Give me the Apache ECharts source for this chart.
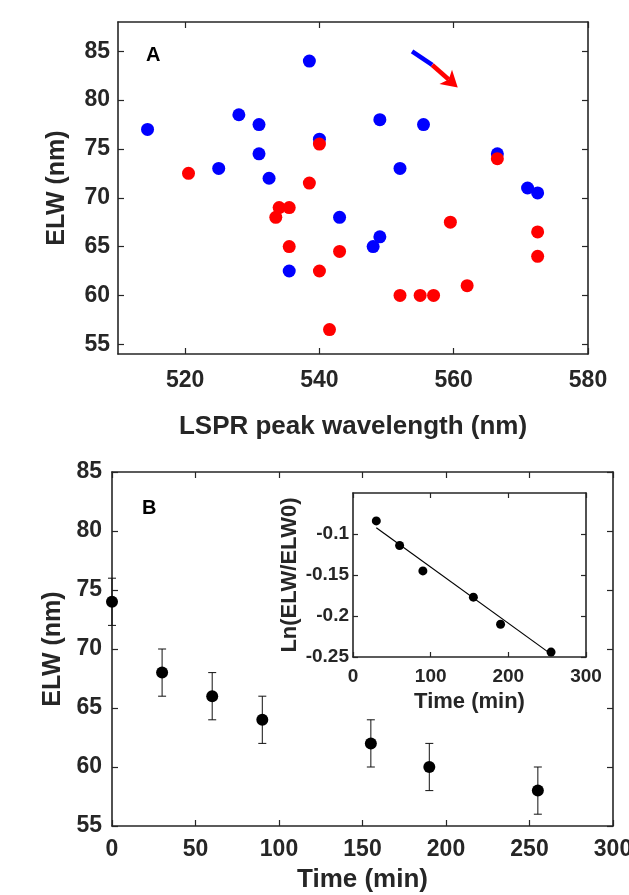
<!DOCTYPE html>
<html><head><meta charset="utf-8">
<script src="https://cdn.jsdelivr.net/npm/echarts@6/dist/echarts.min.js"></script>
<style>html,body{margin:0;padding:0;background:#fff}#c{width:629px;height:895px}</style>
</head><body><div id="c"></div>
<script>
// ---- Panel A data ----
const blueLSPR = [514.4,528,531,531,525,532.5,538.5,540,543,535.5,549,549,548,555.5,552,566.5,571,572.5];
const blueELW  = [77,78.5,77.5,74.5,73,72,84,76,68,62.5,78,66,65,77.5,73,74.5,71,70.5];
const redLSPR  = [520.5,540,538.5,534,535.5,533.5,535.5,543,540,541.5,552,555,557,562,559.5,566.5,572.5,572.5];
const redELW   = [72.5,75.5,71.5,69,69,68,65,64.5,62.5,56.5,60,60,60,61,67.5,74,66.5,64];
const arrowLSPR = [553.8,556.8,560.6];
const arrowELW  = [85.0,83.6,81.3];
// ---- Panel B data ----
const timeMin = [0,30,60,90,155,190,255];
const elwTime = [74,68,66,64,62,60,58];
const elwErr  = [2,2,2,2,2,2,2];
// ---- Inset data ----
const insetTime = [30,60,90,155,190,255];
const insetLn   = [-0.084,-0.114,-0.145,-0.177,-0.21,-0.244];
const fitTime = [30,255];
const fitLn   = [-0.0925,-0.2465];
// ---- ticks ----
const ticksAx = [520,540,560,580];
const ticksAy = [55,60,65,70,75,80,85];
const ticksBx = [0,50,100,150,200,250,300];
const ticksBy = [55,60,65,70,75,80,85];
const ticksIx = [0,100,200,300];
const ticksIy = [-0.25,-0.2,-0.15,-0.1];

const AX = '#262626';
const FONT = '"Liberation Sans", Arial, sans-serif';

function axis(kind, grid, min, max, ticks, o) {
  o = o || {};
  const a = {
    type: 'value', gridIndex: grid, min: min, max: max,
    position: o.position,
    z: o.z || 0,
    axisLine: {show: true, onZero: false, lineStyle: {color: AX, width: 1.6}},
    axisTick: {show: true, inside: true, length: o.tickLen || 6, customValues: ticks, lineStyle: {color: AX, width: 1.2}},
    axisLabel: {show: !o.mirror, customValues: ticks, margin: o.margin || 10,
      fontSize: o.fs || 23, fontWeight: 'bold', fontFamily: FONT, color: AX},
    splitLine: {show: false}
  };
  if (o.name) {
    a.name = o.name; a.nameLocation = 'middle'; a.nameGap = o.gap;
    a.nameTextStyle = {fontSize: o.nfs || 26, fontWeight: 'bold', fontFamily: FONT, color: AX};
  }
  return a;
}

const chart = echarts.init(document.getElementById('c'), null, {renderer: 'canvas'});
const option = {
  animation: false,
  backgroundColor: '#fff',
  grid: [
    {left: 118, top: 22, width: 470, height: 332, outerBoundsMode: 'none', containLabel: false},
    {left: 112, top: 472, width: 501, height: 354, outerBoundsMode: 'none', containLabel: false},
    {left: 353, top: 493, width: 233, height: 164, outerBoundsMode: 'none', containLabel: false, show: true, backgroundColor: '#fff', borderWidth: 0, z: 5}
  ],
  xAxis: [
    axis('x', 0, 510, 580, ticksAx, {position: 'bottom', margin: 15, name: 'LSPR peak wavelength (nm)', gap: 60, nfs: 26}),
    axis('x', 0, 510, 580, ticksAx, {position: 'top', mirror: true}),
    axis('x', 1, 0, 300, ticksBx, {position: 'bottom', margin: 12, name: 'Time (min)', gap: 41, nfs: 26}),
    axis('x', 1, 0, 300, ticksBx, {position: 'top', mirror: true}),
    axis('x', 2, 0, 300, ticksIx, {position: 'bottom', margin: 10, fs: 19, name: 'Time (min)', gap: 34, nfs: 22, z: 6, tickLen: 5}),
    axis('x', 2, 0, 300, ticksIx, {position: 'top', mirror: true, z: 6, tickLen: 5})
  ],
  yAxis: [
    axis('y', 0, 54, 88, ticksAy, {position: 'left', margin: 8, name: 'ELW (nm)', gap: 48, nfs: 25}),
    axis('y', 0, 54, 88, ticksAy, {position: 'right', mirror: true}),
    axis('y', 1, 55, 85, ticksBy, {position: 'left', margin: 10, name: 'ELW (nm)', gap: 36, nfs: 25}),
    axis('y', 1, 55, 85, ticksBy, {position: 'right', mirror: true}),
    axis('y', 2, -0.25, -0.05, ticksIy, {position: 'left', margin: 4, fs: 19, name: 'Ln(ELW/ELW0)', gap: 52, nfs: 22, z: 6, tickLen: 5}),
    axis('y', 2, -0.25, -0.05, ticksIy, {position: 'right', mirror: true, z: 6, tickLen: 5})
  ],
  graphic: [
    {type: 'text', left: 146, top: 45, z: 20, style: {text: 'A', font: 'bold 20px ' + FONT, fill: '#000'}},
    {type: 'text', left: 142, top: 498, z: 20, style: {text: 'B', font: 'bold 20px ' + FONT, fill: '#000'}}
  ],
  series: [
    {type: 'scatter', xAxisIndex: 0, yAxisIndex: 0, symbolSize: 13, itemStyle: {color: '#0000ff', opacity: 1},
      data: blueLSPR.map((x, i) => [x, blueELW[i]]), z: 3},
    {type: 'scatter', xAxisIndex: 0, yAxisIndex: 0, symbolSize: 13, itemStyle: {color: '#ff0000', opacity: 1},
      data: redLSPR.map((x, i) => [x, redELW[i]]), z: 4},
    {type: 'custom', xAxisIndex: 0, yAxisIndex: 0, z: 5, data: [[arrowLSPR[0], arrowELW[0]]],
      renderItem: function (params, api) {
        const p = arrowLSPR.map((x, i) => api.coord([x, arrowELW[i]]));
        const dx = p[2][0] - p[1][0], dy = p[2][1] - p[1][1];
        const len = Math.sqrt(dx * dx + dy * dy);
        const ux = dx / len, uy = dy / len, nx = -uy, ny = ux;
        const L = 16, W = 9.5;
        const bx = p[2][0] - ux * L, by = p[2][1] - uy * L;
        const kx = p[2][0] - ux * L * 0.75, ky = p[2][1] - uy * L * 0.75;
        return {type: 'group', children: [
          {type: 'line', shape: {x1: p[0][0], y1: p[0][1], x2: p[1][0], y2: p[1][1]}, style: {stroke: '#0000ff', lineWidth: 4.5}},
          {type: 'line', shape: {x1: p[1][0], y1: p[1][1], x2: kx, y2: ky}, style: {stroke: '#ff0000', lineWidth: 4.5}},
          {type: 'polygon', shape: {points: [[p[2][0], p[2][1]], [bx + nx * W, by + ny * W], [kx, ky], [bx - nx * W, by - ny * W]]}, style: {fill: '#ff0000'}}
        ]};
      }},
    {type: 'custom', xAxisIndex: 2, yAxisIndex: 2, z: 2,
      data: timeMin.map((t, i) => [t, elwTime[i], elwErr[i]]),
      renderItem: function (params, api) {
        const t = api.value(0), v = api.value(1), e = api.value(2);
        const top = api.coord([t, v + e]), bot = api.coord([t, v - e]);
        const c = 4;
        const st = {stroke: '#111', lineWidth: 1};
        return {type: 'group', children: [
          {type: 'line', shape: {x1: top[0], y1: top[1], x2: bot[0], y2: bot[1]}, style: st},
          {type: 'line', shape: {x1: top[0] - c, y1: top[1], x2: top[0] + c, y2: top[1]}, style: st},
          {type: 'line', shape: {x1: bot[0] - c, y1: bot[1], x2: bot[0] + c, y2: bot[1]}, style: st}
        ]};
      }},
    {type: 'scatter', xAxisIndex: 2, yAxisIndex: 2, symbolSize: 12, itemStyle: {color: '#000', opacity: 1},
      data: timeMin.map((t, i) => [t, elwTime[i]]), z: 3},
    {type: 'line', xAxisIndex: 4, yAxisIndex: 4, showSymbol: false, symbol: 'none', z: 9,
      lineStyle: {color: '#000', width: 1.2}, data: fitTime.map((t, i) => [t, fitLn[i]])},
    {type: 'scatter', xAxisIndex: 4, yAxisIndex: 4, symbolSize: 9, itemStyle: {color: '#000', opacity: 1}, z: 10,
      data: insetTime.map((t, i) => [t, insetLn[i]])}
  ]
};
chart.setOption(option);
</script>
</body></html>
